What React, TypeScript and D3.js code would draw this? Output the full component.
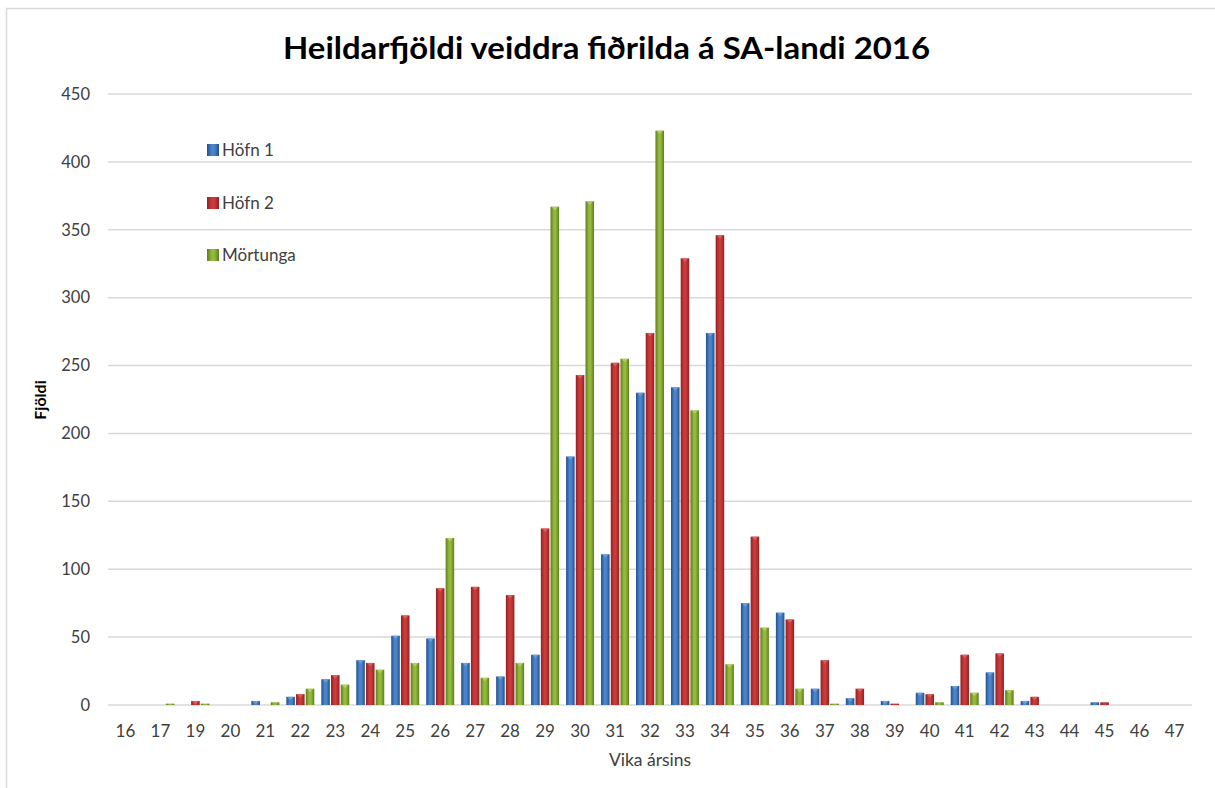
import * as d3 from "d3";
import { useEffect, useRef } from "react";

// weeks of the year (no week 18 in the source)
const weeks = ["16", "17", "19", "20", "21", "22", "23", "24", "25", "26", "27", "28", "29", "30", "31", "32", "33", "34", "35", "36", "37", "38", "39", "40", "41", "42", "43", "44", "45", "46", "47"];
const hofn1 = [0, 0, 0, 0, 3, 6, 19, 33, 51, 49, 31, 21, 37, 183, 111, 230, 234, 274, 75, 68, 12, 5, 3, 9, 14, 24, 3, 0, 2, 0, 0];
const hofn2 = [0, 0, 3, 0, 0, 8, 22, 31, 66, 86, 87, 81, 130, 243, 252, 274, 329, 346, 124, 63, 33, 12, 1, 8, 37, 38, 6, 0, 2, 0, 0];
const mortunga = [0, 1, 1, 0, 2, 12, 15, 26, 31, 123, 20, 31, 367, 371, 255, 423, 217, 30, 57, 12, 1, 0, 0, 2, 9, 11, 0, 0, 0, 0, 0];
const seriesNames = ["Höfn 1", "Höfn 2", "Mörtunga"];
const yTicks = [0, 50, 100, 150, 200, 250, 300, 350, 400, 450];

const colors = [
  { dark: "#24508a", mid: "#4a85cc", light: "#6b9fdc" },
  { dark: "#8e2224", mid: "#cc3a3a", light: "#e06262" },
  { dark: "#5e7d1f", mid: "#93ba3d", light: "#b3d45e" },
];

const W = 1215;
const H = 788;
const margin = { top: 94, right: 23, bottom: 83, left: 108 };
const FONT = "Lato, 'Open Sans', sans-serif";

export default function App() {
  const svgRef = useRef<SVGSVGElement>(null);

  useEffect(() => {
    const svg = d3.select(svgRef.current);
    svg.selectAll("*").remove();

    const innerW = W - margin.left - margin.right;
    const innerH = H - margin.top - margin.bottom;

    const x0 = d3.scaleBand().domain(weeks).range([0, innerW]).paddingInner(0.2).paddingOuter(0.1);
    const x1 = d3.scaleBand().domain(seriesNames).range([0, x0.bandwidth()]).paddingInner(0.12);
    const y = d3.scaleLinear().domain([0, 450]).range([innerH, 0]);

    const defs = svg.append("defs");
    colors.forEach((c, i) => {
      const g = defs.append("linearGradient").attr("id", `grad${i}`).attr("x1", "0").attr("x2", "1").attr("y1", "0").attr("y2", "0");
      g.append("stop").attr("offset", "0%").attr("stop-color", c.dark);
      g.append("stop").attr("offset", "40%").attr("stop-color", c.mid);
      g.append("stop").attr("offset", "60%").attr("stop-color", c.mid);
      g.append("stop").attr("offset", "100%").attr("stop-color", c.dark);
    });

    // chart frame
    svg.append("rect").attr("x", 6.5).attr("y", 8.5).attr("width", W + 20).attr("height", H + 20)
      .attr("fill", "#fff").attr("stroke", "#d9d9d9").attr("stroke-width", 1.5);

    svg.append("text").attr("x", 606.5).attr("y", 59).attr("text-anchor", "middle")
      .attr("font-family", FONT).attr("font-weight", "bold").attr("font-size", 30).attr("fill", "#000")
      .attr("textLength", 647).attr("lengthAdjust", "spacingAndGlyphs")
      .text("Heildarfjöldi veiddra fiðrilda á SA-landi 2016");

    const g = svg.append("g").attr("transform", `translate(${margin.left},${margin.top})`);

    g.selectAll(".grid").data(yTicks).join("line")
      .attr("x1", 0).attr("x2", innerW)
      .attr("y1", (d) => y(d)).attr("y2", (d) => y(d))
      .attr("stroke", "#d9d9d9").attr("stroke-width", 1.5);

    g.selectAll(".ylab").data(yTicks).join("text")
      .attr("x", -18).attr("y", (d) => y(d)).attr("dy", "0.35em").attr("text-anchor", "end")
      .attr("font-family", FONT).attr("font-size", 16.5).attr("fill", "#404040")
      .text((d) => d);

    g.selectAll(".xlab").data(weeks).join("text")
      .attr("x", (d) => (x0(d) || 0) + x0.bandwidth() / 2).attr("y", innerH + 32)
      .attr("text-anchor", "middle")
      .attr("font-family", FONT).attr("font-size", 17).attr("fill", "#404040")
      .text((d) => d);

    const allSeries = [hofn1, hofn2, mortunga];
    allSeries.forEach((vals, si) => {
      const grp = g.append("g");
      const bars = vals.map((v, i) => ({ week: weeks[i], v })).filter((d) => d.v > 0);
      grp.selectAll("rect").data(bars).join("rect")
        .attr("x", (d) => (x0(d.week) || 0) + (x1(seriesNames[si]) || 0))
        .attr("y", (d) => y(d.v))
        .attr("width", x1.bandwidth())
        .attr("height", (d) => innerH - y(d.v))
        .attr("fill", `url(#grad${si})`);
      // small bevel triangle on top of each bar
      grp.selectAll("path").data(bars.filter((d) => innerH - y(d.v) > 4)).join("path")
        .attr("d", (d) => {
          const bx = (x0(d.week) || 0) + (x1(seriesNames[si]) || 0);
          const bw = x1.bandwidth();
          const by = y(d.v);
          return `M${bx + 1},${by} L${bx + bw - 1},${by} L${bx + bw / 2},${by + 3.5} Z`;
        })
        .attr("fill", colors[si].light)
        .attr("opacity", 0.9);
    });

    // legend
    const legY = [150, 203, 255];
    seriesNames.forEach((name, i) => {
      svg.append("rect").attr("x", 207).attr("y", legY[i] - 6).attr("width", 12).attr("height", 12)
        .attr("fill", `url(#grad${i})`);
      svg.append("text").attr("x", 222).attr("y", legY[i]).attr("dy", "0.35em")
        .attr("font-family", FONT).attr("font-size", 17).attr("fill", "#404040").text(name);
    });

    svg.append("text").attr("x", 650).attr("y", 766).attr("text-anchor", "middle")
      .attr("font-family", FONT).attr("font-size", 17.5).attr("fill", "#404040").text("Vika ársins");

    svg.append("text").attr("transform", "translate(46,400) rotate(-90)").attr("text-anchor", "middle")
      .attr("font-family", FONT).attr("font-weight", "bold").attr("font-size", 16).attr("fill", "#000").text("Fjöldi");
  }, []);

  return (
    <svg ref={svgRef} width={W} height={H} style={{ position: "absolute", left: 0, top: 0, background: "#fff" }} />
  );
}
